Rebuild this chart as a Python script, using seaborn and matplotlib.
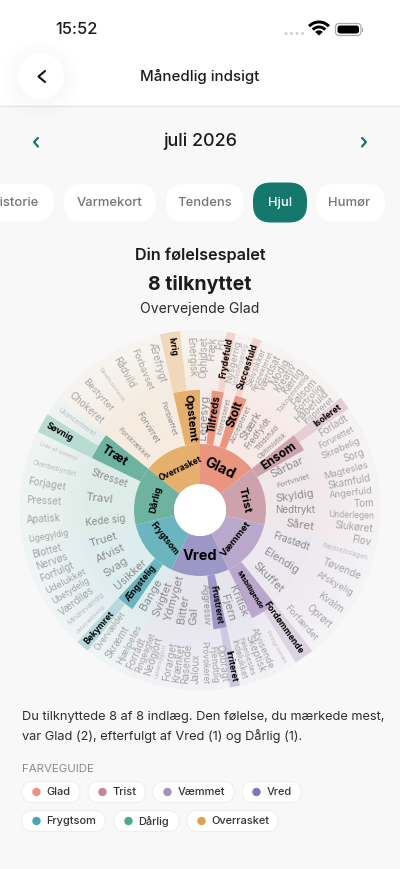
import numpy as np
import matplotlib
matplotlib.use("Agg")
import matplotlib.pyplot as plt
from matplotlib.patches import FancyBboxPatch, Circle, Wedge
from matplotlib.colors import to_rgb
import seaborn as sns

# ---------- data ----------
CORE = ["Glad", "Trist", "Væmmet", "Vred", "Frygtsom", "Dårlig", "Overrasket"]
CORE_COUNTS = [2, 1, 1, 1, 1, 1, 1]
CORE_HEX = ["#E8957F", "#C4849A", "#A88FBB", "#7E78B8", "#45A5B0", "#4CA88F", "#E2A04E"]
INNER_HEX = ["#E9957F", "#CDA2AD", "#B9A8CB", "#9C97C4", "#6BB5BF", "#6EB3A0", "#E5AF6E"]

GLAD_SUBS = ["Legesyg", "Tilfreds", "Interesseret", "Stolt", "Accepteret", "Stærk", "Fredfyldt", "Tillidsfuld", "Optimistisk"]
GLAD_LEAVES = ["Ophidset", "Fræk", "Fri", "Frydefuld", "Nysgerrig", "Videbegærlig", "Succesfuld", "Selvsikker", "Respekteret", "Værdsat", "Modig", "Kreativ", "Kærlig", "Taknemmelig", "Følsom", "Fortrolig", "Håbefuld", "Inspireret"]
TRIST_SUBS = ["Ensom", "Sårbar", "Fortvivlet", "Skyldig", "Nedtrykt", "Såret"]
TRIST_LEAVES = ["Isoleret", "Forladt", "Forurettet", "Skrøbelig", "Sorg", "Magtesløs", "Skamfuld", "Angerfuld", "Tom", "Underlegen", "Slukøret", "Flov"]
VAEMMET_SUBS = ["Frastødt", "Elendig", "Skuffet", "Misbilligende"]
VAEMMET_LEAVES = ["Rædselsslagen", "Tøvende", "Afskyelig", "Kvalm", "Oprørt", "Forfærdet", "Fordømmende", "Pinligt berørt"]
VRED_SUBS = ["Kritisk", "Fjern", "Frustreret", "Aggressiv", "Gal", "Bitter", "Ydmyget", "Svigtet"]
VRED_LEAVES = ["Afvisende", "Skeptisk", "Følelsesløs", "Indelukket", "Irriteret", "Opbragt", "Fjendtlig", "Provokeret", "Jaloux", "Rasende", "Krænket", "Forarget", "Latterliggjort", "Nedgjort", "Ringeagtet", "Forrådt"]
FRYGT_SUBS = ["Bange", "Ængstelig", "Usikker", "Svag", "Afvist", "Truet"]
FRYGT_LEAVES = ["Hjælpeløs", "Skræmt", "Overvældet", "Bekymret", "Utilstrækkelig", "Mindreværdig", "Værdiløs", "Ubetydelig", "Udelukket", "Forfulgt", "Nervøs", "Blottet"]
DAARLIG_SUBS = ["Kede sig", "Travl", "Stresset", "Træt"]
DAARLIG_LEAVES = ["Ligegyldig", "Apatisk", "Presset", "Forjaget", "Overbebyrdet", "Ude af kontrol", "Søvnig", "Ukoncentreret"]
OVERR_SUBS = ["Forskrækket", "Forvirret", "Forbløffet", "Opstemt"]
OVERR_LEAVES = ["Chokeret", "Bestyrtet", "Desillusioneret", "Rådvild", "Forbavset", "Ærefrygt", "Ivrig", "Energisk"]
ALL_SUBS = [GLAD_SUBS, TRIST_SUBS, VAEMMET_SUBS, VRED_SUBS, FRYGT_SUBS, DAARLIG_SUBS, OVERR_SUBS]
ALL_LEAVES = [GLAD_LEAVES, TRIST_LEAVES, VAEMMET_LEAVES, VRED_LEAVES, FRYGT_LEAVES, DAARLIG_LEAVES, OVERR_LEAVES]
ACTIVE_SUBS = ["Opstemt", "Tilfreds", "Stolt", "Ensom", "Misbilligende", "Frustreret", "Ængstelig", "Træt"]
ACTIVE_LEAVES = ["Ivrig", "Frydefuld", "Succesfuld", "Isoleret", "Fordømmende", "Irriteret", "Bekymret", "Søvnig"]
TABS = ["Historie", "Varmekort", "Tendens", "Hjul", "Humør"]

# ---------- style ----------
sns.set_theme(style="white")
plt.rcParams["font.family"] = ["Inter", "DejaVu Sans"]
palette = sns.color_palette(CORE_HEX)
inner_palette = sns.color_palette(INNER_HEX)
W, H = 400, 869
BG = "#F8F8F8"
TEAL = "#14786C"
fig = plt.figure(figsize=(W / 100, H / 100), dpi=100, facecolor=BG)
px = lambda v: v * 0.72


def mix(c, t, base=BG):
    c, b = np.array(to_rgb(c)), np.array(to_rgb(base))
    return tuple(b + (c - b) * t)


ui = fig.add_axes([0, 0, 1, 1], zorder=0)
ui.set_xlim(0, W)
ui.set_ylim(H, 0)
ui.axis("off")


def pill(x0, y0, x1, y1, r, fc, ec="none", lw=0.8, z=2):
    ui.add_patch(FancyBboxPatch((x0 + r, y0 + r), x1 - x0 - 2 * r, y1 - y0 - 2 * r,
                                boxstyle=f"round,pad={r},rounding_size={r}", fc=fc, ec=ec, lw=lw, zorder=z))


def label(x, y, s, size, color="#1c1c1e", weight="normal", ha="center", **kw):
    ui.text(x, y, s, fontsize=px(size), color=color, fontweight=weight, ha=ha, va="center", zorder=5, **kw)


# header
ui.add_patch(plt.Rectangle((0, 0), W, 105, fc="white", ec="none", zorder=1))
ui.plot([0, W], [105.5, 105.5], color="#E6E6E6", lw=0.8, zorder=2)
for r in range(40, 22, -3):
    ui.add_patch(Circle((41, 80), r, fc="black", alpha=0.0045, ec="none", zorder=2))
ui.add_patch(Circle((41, 76), 23, fc="white", ec="none", zorder=3))
ui.plot([45, 38.5, 45], [71, 76.5, 82], color="#111", lw=1.5, zorder=4, solid_capstyle="round", solid_joinstyle="round")
label(76, 29.5, "15:52", 16.5, weight="medium")
label(200, 76.5, "Månedlig indsigt", 15, weight="medium")
# status icons
for x in [286, 291.5, 297, 302.5]:
    ui.add_patch(Circle((x, 33.5), 1.5, fc="#CFCFCF", ec="none", zorder=3))
for r, w in [(15, 3), (10, 3), (5.2, 5.2)]:
    ui.add_patch(Wedge((319, 35.5), r, 223, 317, width=w if r > 6 else None, fc="black", ec="none", zorder=3))
pill(335.5, 23.5, 361, 35.5, 3.8, "white", "#ABABAB", 0.9, 3)
pill(337.5, 25.5, 359, 33.5, 2.6, "black", z=4)
ui.add_patch(plt.Rectangle((362, 27.5), 1.2, 4, fc="#ABABAB", ec="none", zorder=3))

# month row
label(200, 141, "juli 2026", 18, weight="medium")
ui.plot([38, 34, 38], [138, 142, 146.5], color=TEAL, lw=1.6, solid_capstyle="round", zorder=4)
ui.plot([362, 366, 362], [138, 142, 146.5], color=TEAL, lw=1.6, solid_capstyle="round", zorder=4)

# tabs
TAB_SPANS = [(-30, 54), (64, 156), (166, 244), (253, 307), (316, 385)]
TAB_X = [14.5, 110, 205, 280, 349.5]
for name, (a, b), tx in zip(TABS, TAB_SPANS, TAB_X):
    on = name == "Hjul"
    y0, y1 = (182.5, 222.5) if on else (184, 221.5)
    pill(a, y0, b, y1, 18, TEAL if on else "white")
    label(tx, 203, name, 13, color="white" if on else "#757575", weight="medium")

# headings
label(200, 255, "Din følelsespalet", 16.2, weight="semibold")
label(200, 285, "8 tilknyttet", 19.5, weight="bold")
label(200, 309.5, "Overvejende Glad", 14, color="#2b2b2b")

# paragraph + legend
label(22, 717, "Du tilknyttede 8 af 8 indlæg. Den følelse, du mærkede mest,", 12.8, color="#2e2e2e", ha="left")
label(22, 736, "var Glad (2), efterfulgt af Vred (1) og Dårlig (1).", 12.8, color="#2e2e2e", ha="left")
label(22, 769, "FARVEGUIDE", 11.5, color="#8a8a8a", ha="left")
CHIP_SPANS = [(22, 80, 0), (88, 145, 0), (153, 234, 0), (242, 301, 0), (22, 105, 1), (114, 179, 1), (187, 278, 1)]
for name, col, (a, b, row) in zip(CORE, palette, CHIP_SPANS):
    y0 = 781.5 + row * 29
    pill(a, y0, b, y0 + 21, 10.5, "white", "#EFEFEF", 0.8)
    ui.add_patch(Circle((a + 14.5, y0 + 10.5), 4.2, fc=col, ec="none", zorder=4))
    label(a + 24.5, y0 + 10.8, name, 11, color="#333333", weight="medium", ha="left")

# ---------- wheel ----------
CX, CY, RMAX = 200, 510, 184
R0, R1, R2, R3 = 26, 66, 120, 180
ax = fig.add_axes([(CX - RMAX) / W, 1 - (CY + RMAX) / H, 2 * RMAX / W, 2 * RMAX / H],
                  projection="polar", zorder=3)
ax.set_facecolor("none")
ax.set_theta_zero_location("N")
ax.set_theta_direction(-1)
ax.set_ylim(0, RMAX)
ax.axis("off")


def rad_text(theta, r, s, size, color, weight="normal"):
    """Radial label whose outer end sits at radius r."""
    d = np.degrees(theta) % 360
    right = d < 180
    rot = 90 - d if right else 270 - d
    ax.text(theta, r, s, rotation=rot, rotation_mode="anchor", ha="right" if right else "left",
            va="center", fontsize=px(size), color=color, fontweight=weight, zorder=6)


sector = 2 * np.pi / len(CORE)
STEPS = 16
for i, (core, col, fill, subs, leaves) in enumerate(zip(CORE, palette, inner_palette, ALL_SUBS, ALL_LEAVES)):
    start = i * sector
    mid = start + sector / 2
    # inner ring
    ax.bar(mid, R1 - R0, width=sector, bottom=R0, color=fill, lw=0, zorder=2)
    deg = np.degrees(mid)
    rot = -deg if (deg < 90 or deg > 270) else 180 - deg
    size = {4: 14.5, 5: 11.5, 6: 9.5, 8: 8.5, 10: 8.5}.get(len(core), 9.5)
    ax.text(mid, 46, core, rotation=rot, rotation_mode="anchor", ha="center", va="center",
            fontsize=px(size), fontweight="bold", color="black", zorder=6)
    # radial fade for the two soft rings
    edges = np.linspace(R1, R3, STEPS + 1)
    for lo, hi in zip(edges[:-1], edges[1:]):
        t = 0.15 if hi <= R2 else 0.13 - 0.09 * (lo - R2) / (R3 - R2)
        ax.bar(mid, hi - lo + 0.4, width=sector, bottom=lo, color=mix(col, t), lw=0, zorder=1)
    # middle ring
    w_sub = sector / len(subs)
    for j, name in enumerate(subs):
        th = start + (j + 0.5) * w_sub
        on = name in ACTIVE_SUBS
        if on:
            ax.bar(th, R2 - R1, width=w_sub, bottom=R1, color=fill, lw=0, zorder=3)
            s = np.clip(46 / (len(name) * 0.58), 6.8, 12)
            rad_text(th, 116, name, s, "black", "bold")
        else:
            s = np.clip(43 / (len(name) * 0.55), 6.4, 11.5)
            rad_text(th, 115, name, s, "#8d8d8d")
    # outer ring
    w_leaf = sector / len(leaves)
    for j, name in enumerate(leaves):
        th = start + (j + 0.5) * w_leaf
        on = name in ACTIVE_LEAVES
        if on:
            ax.bar(th, R3 - R2, width=w_leaf, bottom=R2, color=mix(col, 0.36), lw=0, zorder=3)
            rad_text(th, 175, name, 8.6, "black", "bold")
        else:
            s = np.clip(46 / (len(name) * 0.55), 5.8, 9.8)
            rad_text(th, 174, name, s, "#a6a6a6" if s > 7.2 else "#bdbdbd")

ax.bar(0, R0, width=2 * np.pi, bottom=0, color="white", lw=0, zorder=5)

fig.savefig("out.png", dpi=100, facecolor=BG)
